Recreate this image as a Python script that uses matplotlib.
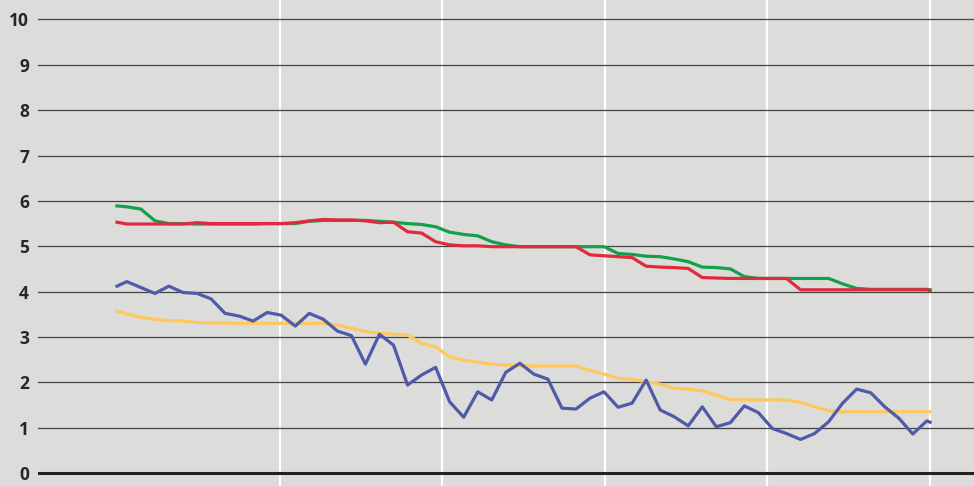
import numpy as np
import matplotlib
matplotlib.use('Agg')
import matplotlib.pyplot as plt

# x: time index (first and last periods are partial)
t = np.concatenate([[0.0], np.arange(58) + 0.7, [57.93]])

green = [5.89, 5.87, 5.82, 5.56, 5.50, 5.50, 5.49, 5.49, 5.49, 5.49,
         5.49, 5.50, 5.50, 5.50, 5.55, 5.57, 5.57, 5.57, 5.57, 5.55,
         5.53, 5.50, 5.48, 5.43, 5.31, 5.26, 5.23, 5.10, 5.03, 4.99,
         4.99, 4.99, 4.99, 4.99, 4.99, 4.99, 4.84, 4.82, 4.78, 4.77,
         4.72, 4.66, 4.54, 4.53, 4.50, 4.33, 4.29, 4.29, 4.29, 4.29,
         4.29, 4.29, 4.17, 4.07, 4.05, 4.05, 4.05, 4.05, 4.05, 4.04]
red = [5.53, 5.49, 5.49, 5.49, 5.49, 5.49, 5.52, 5.50, 5.50, 5.50,
       5.50, 5.50, 5.50, 5.52, 5.56, 5.59, 5.58, 5.58, 5.56, 5.52,
       5.53, 5.32, 5.29, 5.10, 5.03, 5.01, 5.01, 4.99, 4.99, 4.99,
       4.99, 4.99, 4.99, 4.99, 4.81, 4.79, 4.77, 4.75, 4.56, 4.54,
       4.53, 4.51, 4.31, 4.30, 4.29, 4.29, 4.29, 4.29, 4.29, 4.04,
       4.04, 4.04, 4.04, 4.04, 4.04, 4.04, 4.04, 4.04, 4.04, 4.02]
blue = [4.12, 4.22, 4.09, 3.96, 4.12, 3.98, 3.96, 3.84, 3.52, 3.46,
        3.35, 3.54, 3.48, 3.24, 3.52, 3.39, 3.13, 3.03, 2.40, 3.06,
        2.82, 1.94, 2.16, 2.33, 1.57, 1.23, 1.79, 1.61, 2.22, 2.42,
        2.18, 2.07, 1.43, 1.41, 1.65, 1.79, 1.45, 1.54, 2.05, 1.39,
        1.24, 1.04, 1.46, 1.02, 1.11, 1.48, 1.33, 0.98, 0.87, 0.74,
        0.87, 1.13, 1.54, 1.85, 1.77, 1.46, 1.21, 0.86, 1.15, 1.12]
yellow = [3.57, 3.51, 3.43, 3.39, 3.36, 3.35, 3.32, 3.31, 3.31, 3.30,
          3.30, 3.30, 3.30, 3.30, 3.30, 3.30, 3.26, 3.19, 3.12, 3.08,
          3.06, 3.04, 2.86, 2.78, 2.56, 2.49, 2.44, 2.40, 2.38, 2.37,
          2.36, 2.36, 2.36, 2.36, 2.26, 2.18, 2.09, 2.07, 2.01, 1.96,
          1.87, 1.85, 1.81, 1.72, 1.62, 1.61, 1.61, 1.61, 1.61, 1.56,
          1.46, 1.37, 1.35, 1.35, 1.35, 1.35, 1.35, 1.35, 1.35, 1.35]

yticks = list(range(0, 11))

bg = '#dcdcdb'
fig = plt.figure(figsize=(9.74, 4.86), dpi=100, facecolor=bg)
ax = fig.add_axes([38 / 974, 0, 1 - 38 / 974, 1])
ax.set_facecolor(bg)

# white vertical gridlines, evenly spaced across the data range
for xv in np.linspace(t[0], t[-1], 6)[1:]:
    ax.axvline(xv, color='white', lw=1.6, zorder=0.5)
# horizontal gridlines
for yv in yticks[1:]:
    ax.axhline(yv, color='#444444', lw=0.9, zorder=1)
ax.axhline(0, color='#222222', lw=2.2, zorder=1)

lw = 2.3
ax.plot(t, yellow, color='#fec85c', lw=lw, zorder=3)
ax.plot(t, blue, color='#4f5aa8', lw=lw, zorder=4)
ax.plot(t, green, color='#12a04b', lw=lw, zorder=5)
ax.plot(t, red, color='#e12a3b', lw=lw, zorder=6)

ax.set_xlim(-5.63, 61.06)
ax.set_ylim(-13 / 45.35, 10 + 19.5 / 45.35)
ax.set_yticks(yticks)
ax.set_yticklabels([str(v) for v in yticks], fontfamily='Open Sans',
                   fontweight='bold', fontsize=12.5, color='#262626')
ax.set_xticks([])
ax.tick_params(axis='y', length=0, pad=6.5)
for s in ax.spines.values():
    s.set_visible(False)

plt.savefig('out.png', dpi=100, facecolor=bg)
